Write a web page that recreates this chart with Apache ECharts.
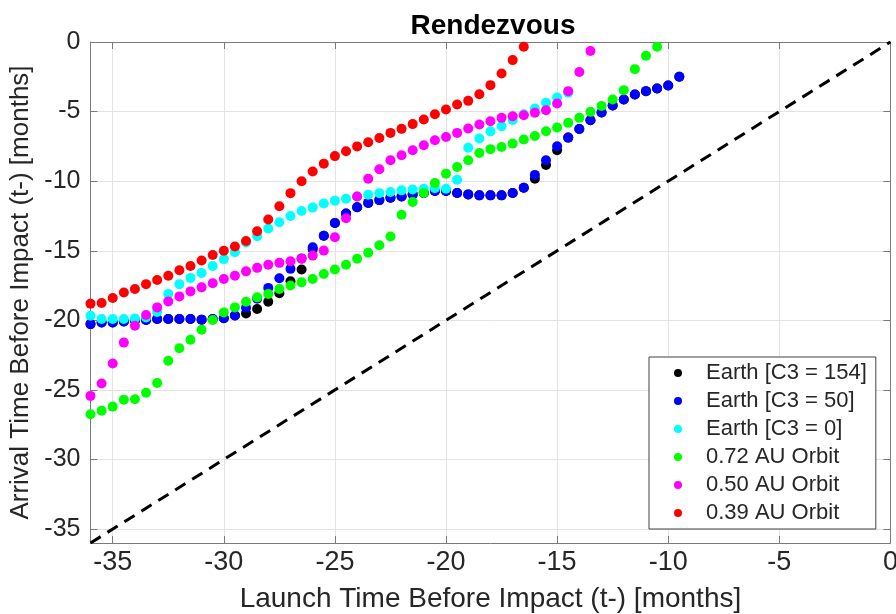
<!DOCTYPE html>
<html>
<head>
<meta charset="utf-8">
<script src="https://cdn.jsdelivr.net/npm/echarts@6/dist/echarts.min.js"></script>
<style>
html,body{margin:0;padding:0;background:#fff;}
#chart{width:896px;height:614px;}
</style>
</head>
<body>
<div id="chart"></div>
<script>
var tickValues = [-35, -30, -25, -20, -15, -10, -5, 0];
var seriesNames = ['Earth [C3 = 154]', 'Earth [C3 = 50]', 'Earth [C3 = 0]', '0.72 AU Orbit', '0.50 AU Orbit', '0.39 AU Orbit'];
var seriesColors = ['#000000', '#0000ff', '#00ffff', '#00ff00', '#ff00ff', '#ff0000'];

var blueX = [-36,-35.5,-35,-34.5,-34,-33.5,-33,-32.5,-32,-31.5,-31,-30.5,-30,-29.5,-29,-28.5,-28,-27.5,-27,-26.5,-26,-25.5,-25,-24.5,-24,-23.5,-23,-22.5,-22,-21.5,-21,-20.5,-20,-19.5,-19,-18.5,-18,-17.5,-17,-16.5,-16,-15.5,-15,-14.5,-14,-13.5,-13,-12.5,-12,-11.5,-11,-10.5,-10,-9.5];
var blueY = [-20.27,-20.15,-20.15,-20.08,-20.0,-19.98,-19.9,-19.9,-19.9,-19.9,-19.95,-19.9,-19.85,-19.65,-19.1,-18.45,-17.67,-16.98,-16.3,-15.55,-14.75,-13.92,-13.0,-12.33,-11.87,-11.56,-11.36,-11.19,-11.1,-10.95,-10.85,-10.71,-10.71,-10.85,-10.95,-11.02,-11.02,-11.02,-10.85,-10.47,-9.55,-8.5,-7.49,-6.87,-6.25,-5.62,-5.07,-4.56,-4.13,-3.77,-3.53,-3.34,-3.12,-2.5];

var blackX = [-36,-35.5,-35,-34.5,-34,-33.5,-33,-32.5,-32,-31.5,-31,-30.5,-30,-29.5,-29,-28.5,-28,-27.5,-27,-26.5,-26,-25.5,-25,-24.5,-24,-23.5,-23,-22.5,-22,-21.5,-21,-20.5,-20,-19.5,-19,-18.5,-18,-17.5,-17,-16.5,-16,-15.5,-15,-14.5,-14,-13.5,-13,-12.5,-12,-11.5,-11,-10.5,-10,-9.5];
var blackY = [-20.27,-20.15,-20.15,-20.08,-20.0,-19.98,-19.9,-19.9,-19.9,-19.9,-19.95,-19.9,-19.85,-19.65,-19.5,-19.19,-18.66,-18.06,-17.2,-16.35,-14.9,-13.92,-13.0,-12.33,-11.87,-11.56,-11.36,-11.19,-11.1,-10.95,-10.85,-10.71,-10.71,-10.85,-10.95,-11.02,-11.02,-11.02,-10.85,-10.47,-9.82,-8.84,-7.78,-6.87,-6.25,-5.62,-5.07,-4.56,-4.13,-3.77,-3.53,-3.34,-3.12,-2.5];

var cyanX = [-36,-35.5,-35,-34.5,-34,-33.5,-33,-32.5,-32,-31.5,-31,-30.5,-30,-29.5,-29,-28.5,-28,-27.5,-27,-26.5,-26,-25.5,-25,-24.5,-24,-23.5,-23,-22.5,-22,-21.5,-21,-20.5,-20,-19.5,-19,-18.5,-18,-17.5,-17,-16.5,-16,-15.5,-15,-14.5];
var cyanY = [-19.67,-19.9,-19.9,-19.9,-19.86,-19.8,-19.4,-18.1,-17.4,-16.95,-16.6,-16.1,-15.6,-15.1,-14.4,-13.95,-13.4,-12.95,-12.5,-12.15,-11.9,-11.6,-11.4,-11.26,-11.1,-10.97,-10.86,-10.78,-10.66,-10.6,-10.54,-10.5,-10.54,-9.9,-7.6,-6.94,-6.42,-6.05,-5.6,-5.2,-4.78,-4.37,-3.99,-3.65];

var greenX = [-36,-35.5,-35,-34.5,-34,-33.5,-33,-32.5,-32,-31.5,-31,-30.5,-30,-29.5,-29,-28.5,-28,-27.5,-27,-26.5,-26,-25.5,-25,-24.5,-24,-23.5,-23,-22.5,-22,-21.5,-21,-20.5,-20,-19.5,-19,-18.5,-18,-17.5,-17,-16.5,-16,-15.5,-15,-14.5,-14,-13.5,-13,-12.5,-12,-11.5,-11,-10.5];
var greenY = [-26.75,-26.5,-26.2,-25.7,-25.67,-25.2,-24.5,-22.9,-22.0,-21.4,-20.68,-19.98,-19.43,-19.07,-18.66,-18.35,-18.1,-17.75,-17.5,-17.27,-17.03,-16.67,-16.35,-16.0,-15.57,-15.14,-14.6,-13.98,-12.41,-11.5,-10.85,-10.13,-9.46,-8.98,-8.5,-7.97,-7.7,-7.54,-7.3,-7.01,-6.75,-6.41,-6.15,-5.81,-5.45,-5.02,-4.59,-4.13,-3.46,-1.95,-0.99,-0.34];

var magentaX = [-36,-35.5,-35,-34.5,-34,-33.5,-33,-32.5,-32,-31.5,-31,-30.5,-30,-29.5,-29,-28.5,-28,-27.5,-27,-26.5,-26,-25.5,-25,-24.5,-24,-23.5,-23,-22.5,-22,-21.5,-21,-20.5,-20,-19.5,-19,-18.5,-18,-17.5,-17,-16.5,-16,-15.5,-15,-14.5,-14,-13.5];
var magentaY = [-25.43,-24.54,-23.1,-21.6,-20.39,-19.62,-19.07,-18.64,-18.28,-17.92,-17.63,-17.34,-17.03,-16.79,-16.48,-16.23,-16.0,-15.87,-15.76,-15.58,-15.35,-14.99,-14.03,-12.66,-11.1,-9.82,-9.15,-8.5,-8.14,-7.78,-7.42,-7.06,-6.82,-6.53,-6.22,-5.93,-5.69,-5.45,-5.33,-5.26,-5.09,-4.9,-4.42,-3.53,-2.16,-0.65];

var redX = [-36,-35.5,-35,-34.5,-34,-33.5,-33,-32.5,-32,-31.5,-31,-30.5,-30,-29.5,-29,-28.5,-28,-27.5,-27,-26.5,-26,-25.5,-25,-24.5,-24,-23.5,-23,-22.5,-22,-21.5,-21,-20.5,-20,-19.5,-19,-18.5,-18,-17.5,-17,-16.5];
var redY = [-18.8,-18.75,-18.4,-18.0,-17.75,-17.4,-17.1,-16.8,-16.4,-16.1,-15.7,-15.3,-15.0,-14.7,-14.3,-13.6,-12.75,-11.8,-10.86,-10.0,-9.3,-8.74,-8.2,-7.85,-7.5,-7.2,-6.9,-6.53,-6.24,-5.9,-5.57,-5.19,-4.85,-4.49,-4.23,-3.75,-3.1,-2.26,-1.3,-0.34];

var diagX = [-36, 0];
var diagY = [-36, 0];

function pairs(xs, ys) {
  var out = [];
  for (var i = 0; i < xs.length; i++) out.push([xs[i], ys[i]]);
  return out;
}

var FONT = '"Liberation Sans", Arial, Helvetica, sans-serif';
var AXIS_COLOR = '#7a7a7a';
var TEXT_COLOR = '#262626';

var allX = [blackX, blueX, cyanX, greenX, magentaX, redX];
var allY = [blackY, blueY, cyanY, greenY, magentaY, redY];

var series = [{
  type: 'line',
  data: pairs(diagX, diagY),
  symbol: 'none',
  silent: true,
  lineStyle: { color: '#000', width: 3, type: [12, 8] },
  z: 1
}];
for (var s = 0; s < seriesNames.length; s++) {
  series.push({
    name: seriesNames[s],
    type: 'scatter',
    data: pairs(allX[s], allY[s]),
    symbol: 'circle',
    symbolSize: 10,
    itemStyle: { color: seriesColors[s], opacity: 1 },
    z: 2
  });
}

var chart = echarts.init(document.getElementById('chart'), null, { renderer: 'canvas' });
chart.setOption({
  animation: false,
  backgroundColor: '#ffffff',
  title: {
    text: 'Rendezvous',
    left: 488,
    top: 7,
    textAlign: 'center',
    textStyle: { fontFamily: FONT, fontSize: 28, fontWeight: 'bold', color: '#000' }
  },
  grid: { left: 90.5, right: 5.6, top: 42, bottom: 71, containLabel: false, outerBoundsMode: 'none' },
  legend: {
    data: seriesNames,
    orient: 'vertical',
    left: 649,
    top: 357,
    icon: 'circle',
    itemWidth: 8,
    itemHeight: 8,
    itemGap: 4,
    padding: [4, 9, 4, 25],
    borderColor: '#404040',
    borderWidth: 1,
    backgroundColor: '#ffffff',
    textStyle: { fontFamily: FONT, fontSize: 22, lineHeight: 24, color: TEXT_COLOR, padding: [0, 0, 0, 19] }
  },
  xAxis: [{
    type: 'value', min: -36, max: 0, position: 'bottom',
    name: 'Launch Time Before Impact (t-) [months]',
    nameLocation: 'middle', nameGap: 42,
    nameTextStyle: { fontFamily: FONT, fontSize: 28, color: TEXT_COLOR },
    axisLine: { show: true, onZero: false, lineStyle: { color: AXIS_COLOR, width: 1 } },
    axisTick: { show: true, inside: true, length: 7, customValues: tickValues, lineStyle: { color: AXIS_COLOR } },
    axisLabel: { customValues: tickValues, fontFamily: FONT, fontSize: 27, color: TEXT_COLOR, margin: 6 },
    splitLine: { show: true, lineStyle: { color: '#e3e3e3', width: 1 } }
  }, {
    type: 'value', min: -36, max: 0, position: 'top',
    axisLine: { show: true, onZero: false, lineStyle: { color: AXIS_COLOR, width: 1 } },
    axisTick: { show: true, inside: true, length: 7, customValues: tickValues, lineStyle: { color: AXIS_COLOR } },
    axisLabel: { show: false },
    splitLine: { show: false }
  }],
  yAxis: [{
    type: 'value', min: -36, max: 0, position: 'left',
    name: 'Arrival Time Before Impact (t-) [months]',
    nameLocation: 'middle', nameGap: 47, nameRotate: 90,
    nameTextStyle: { fontFamily: FONT, fontSize: 26, color: TEXT_COLOR },
    axisLine: { show: true, onZero: false, lineStyle: { color: AXIS_COLOR, width: 1 } },
    axisTick: { show: true, inside: true, length: 7, customValues: tickValues, lineStyle: { color: AXIS_COLOR } },
    axisLabel: { customValues: tickValues, fontFamily: FONT, fontSize: 25, color: TEXT_COLOR, margin: 10 },
    splitLine: { show: true, lineStyle: { color: '#e3e3e3', width: 1 } }
  }, {
    type: 'value', min: -36, max: 0, position: 'right',
    axisLine: { show: true, onZero: false, lineStyle: { color: AXIS_COLOR, width: 1 } },
    axisTick: { show: true, inside: true, length: 7, customValues: tickValues, lineStyle: { color: AXIS_COLOR } },
    axisLabel: { show: false },
    splitLine: { show: false }
  }],
  series: series
});
</script>
</body>
</html>
